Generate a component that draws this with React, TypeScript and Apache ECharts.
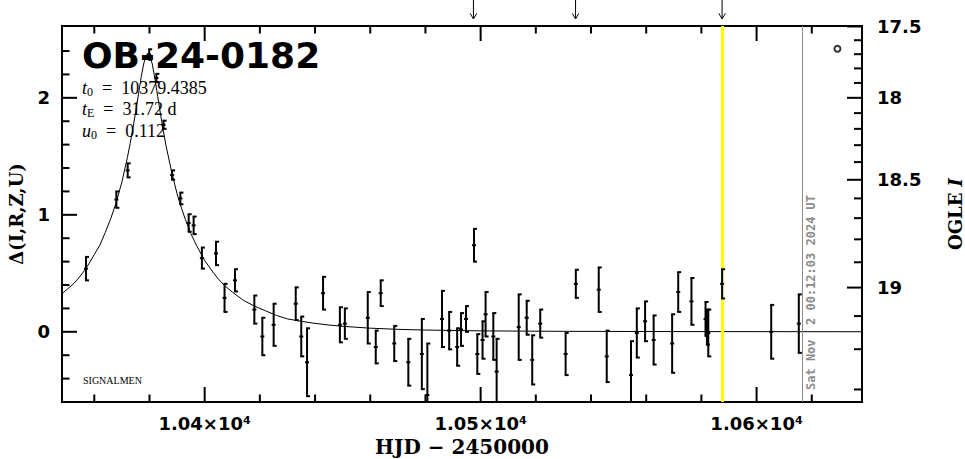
import React, { useEffect, useRef } from "react";
import * as echarts from "echarts";

// ---- axis ranges ----
const X_MIN = 10348.3;
const X_MAX = 10638.2;
const Y_MIN = -0.6;
const Y_MAX = 2.614;

// ---- observations (HJD-2450000, Δ, error) ----
const obsDays = [
  10357.0, 10368.0, 10372.1, 10379.9, 10382.5, 10385.1, 10388.2, 10391.2, 10394.2, 10396.0,
  10399.0, 10404.1, 10407.2, 10411.0, 10418.0, 10420.9, 10425.0, 10433.0, 10435.0, 10437.1,
  10442.9, 10449.0, 10450.8, 10459.1, 10462.0, 10463.8, 10468.7, 10473.8, 10478.7, 10480.7,
  10486.0, 10488.6, 10491.5, 10492.9, 10494.7, 10497.6, 10498.8, 10500.7, 10501.8, 10504.6,
  10505.8, 10513.8, 10516.7, 10518.7, 10521.6, 10530.8, 10534.5, 10542.8, 10545.7, 10554.5,
  10556.6, 10559.6, 10562.7, 10569.4, 10571.6, 10576.4, 10581.5, 10582.0, 10582.5, 10587.5,
  10605.3, 10615.3,
];
const obsDelta = [
  0.54, 1.13, 1.38, 2.37, 2.17, 1.77, 1.34, 1.14, 0.93, 0.91,
  0.63, 0.67, 0.29, 0.44, 0.19, -0.04, 0.06, 0.24, -0.04, -0.26,
  0.33, 0.06, 0.07, 0.12, -0.13, 0.33, -0.1, -0.26, -0.19, -0.54,
  0.11, 0.01, -0.13, 0.02, 0.11, 0.74, -0.19, -0.07, 0.15, -0.04,
  -0.34, 0.04, 0.12, -0.24, 0.07, -0.19, 0.41, 0.36, -0.21, -0.37,
  -0.01, 0.09, -0.07, -0.1, 0.34, 0.26, 0.11, 0.04, -0.01, 0.41,
  0.0, 0.07,
];
const obsErr = [
  0.1, 0.07, 0.06, 0.045, 0.035, 0.035, 0.04, 0.05, 0.075, 0.075,
  0.09, 0.1, 0.12, 0.095, 0.12, 0.16, 0.18, 0.14, 0.17, 0.29,
  0.14, 0.15, 0.13, 0.22, 0.14, 0.11, 0.15, 0.2, 0.3, 0.44,
  0.24, 0.16, 0.16, 0.14, 0.11, 0.14, 0.17, 0.16, 0.19, 0.2,
  0.28, 0.28, 0.145, 0.21, 0.12, 0.18, 0.12, 0.19, 0.22, 0.29,
  0.21, 0.17, 0.21, 0.25, 0.17, 0.2, 0.145, 0.15, 0.2, 0.125,
  0.23, 0.25,
];

// ---- model curve ----
const modelDays = [
  10348, 10350, 10352, 10354, 10356, 10358, 10360, 10362, 10364, 10366,
  10368, 10370, 10372, 10373, 10374, 10375, 10376, 10377, 10378, 10379,
  10379.44, 10380, 10381, 10382, 10383, 10384, 10385, 10386, 10388, 10390,
  10391, 10393, 10395, 10397, 10400, 10403, 10405, 10407, 10410, 10414,
  10418, 10422, 10426, 10430, 10435, 10440, 10445, 10450, 10460, 10470,
  10480, 10500, 10530, 10570, 10640,
];
const modelDelta = [
  0.32, 0.36, 0.4, 0.45, 0.51, 0.58, 0.66, 0.74, 0.85, 0.97,
  1.11, 1.28, 1.49, 1.61, 1.74, 1.88, 2.03, 2.18, 2.3, 2.37,
  2.38, 2.37, 2.29, 2.16, 2.01, 1.86, 1.72, 1.59, 1.37, 1.18,
  1.1, 0.96, 0.84, 0.74, 0.61, 0.51, 0.45, 0.4, 0.34, 0.27,
  0.22, 0.18, 0.14, 0.11, 0.09, 0.072, 0.058, 0.047, 0.031, 0.021,
  0.015, 0.008, 0.004, 0.002, 0.0005,
];

// ---- ticks ----
const xTickLabels = [10400, 10500, 10600];
const xMinorTicks = [10360, 10380, 10420, 10440, 10460, 10480, 10520, 10540, 10560, 10580, 10620];
const yTickLabels = [0, 1, 2];
const yMinorTicks = [-0.4, -0.2, 0.2, 0.4, 0.6, 0.8, 1.2, 1.4, 1.6, 1.8, 2.2, 2.4];
const magTickLabels = [17.5, 18, 18.5, 19];
const magMinorTicks = [17.6, 17.7, 17.8, 17.9, 18.1, 18.2, 18.3, 18.4, 18.6, 18.7, 18.8, 18.9, 19.1, 19.2, 19.3];

// OGLE I  <->  Δ scale conversion
const MAG_K = 20.2752;
const MAG_C = 1.82;
const magToDelta = (m: number) => 2.5 * Math.log10(Math.pow(10, (MAG_K - m) / 2.5) - MAG_C);
const deltaToMag = (d: number) => MAG_K - 2.5 * Math.log10(Math.pow(10, d / 2.5) + MAG_C);

// ---- annotations ----
const arrowDays = [10497.4, 10534.4, 10587.5];
const highlightDay = 10587.5;
const nowDay = 10616.5;
const nowLabel = "Sat Nov  2 00:12:03 2024 UT";
const legendMark = [[10629.3, 2.42]];
const eventName = "OB-24-0182";
const t0Value = "10379.4385";
const tEValue = "31.72 d";
const u0Value = "0.112";
const creditText = "SIGNALMEN";

const SANS = "DejaVu Sans";
const SERIF = "DejaVu Serif";
const TIMES = "Liberation Serif";

export default function App() {
  const ref = useRef<HTMLDivElement>(null);

  useEffect(() => {
    if (!ref.current) return;
    const chart = echarts.init(ref.current, undefined, { renderer: "svg" });

    const tickData: number[][] = [];
    xMinorTicks.forEach((v) => {
      tickData.push([v, Y_MIN, 0, 7.5]);
      tickData.push([v, Y_MAX, 1, 7.5]);
    });
    xTickLabels.forEach((v) => {
      tickData.push([v, Y_MIN, 0, 15]);
      tickData.push([v, Y_MAX, 1, 15]);
    });
    yMinorTicks.forEach((v) => tickData.push([X_MIN, v, 2, 7.5]));
    yTickLabels.forEach((v) => tickData.push([X_MIN, v, 2, 15]));
    magMinorTicks.forEach((m) => tickData.push([X_MAX, magToDelta(m), 3, 8]));
    magTickLabels.forEach((m) => tickData.push([X_MAX, magToDelta(m), 3, 15]));

    const obsData = obsDays.map((d, i) => [d, obsDelta[i], obsErr[i]]);
    const modelData = modelDays.map((d, i) => [d, modelDelta[i]]);
    const annoData: number[][] = arrowDays.map((d) => [d, Y_MAX, 0]);
    annoData.push([nowDay, Y_MIN, 1]);

    const paramRich = {
      i: { fontFamily: TIMES, fontSize: 18, fontStyle: "italic", lineHeight: 20, fill: "#000" },
      s: { fontFamily: TIMES, fontSize: 12, lineHeight: 12, verticalAlign: "bottom", fill: "#000" },
      n: { fontFamily: TIMES, fontSize: 18, lineHeight: 20, fill: "#000" },
    };

    const option: any = {
      animation: false,
      backgroundColor: "#fff",
      grid: {
        left: 62,
        top: 26,
        width: 800,
        height: 376,
        show: true,
        borderColor: "#000",
        borderWidth: 2,
        backgroundColor: "transparent",
        containLabel: false,
        outerBoundsMode: "none",
      },
      xAxis: [
        {
          type: "value",
          min: X_MIN,
          max: X_MAX,
          position: "bottom",
          axisLine: { show: false },
          axisTick: { show: false },
          splitLine: { show: false },
          axisLabel: {
            customValues: xTickLabels,
            formatter: (v: number) => (v / 1e4).toFixed(2) + "×10⁴",
            margin: 12,
            color: "#000",
            fontSize: 18,
            fontWeight: "bold",
            fontFamily: SANS,
          },
          name: "HJD − 2450000",
          nameLocation: "middle",
          nameGap: 35,
          nameTextStyle: { color: "#000", fontSize: 20, fontWeight: "bold", fontFamily: SERIF },
        },
      ],
      yAxis: [
        {
          type: "value",
          min: Y_MIN,
          max: Y_MAX,
          position: "left",
          axisLine: { show: false },
          axisTick: { show: false },
          splitLine: { show: false },
          axisLabel: {
            customValues: yTickLabels,
            formatter: (v: number) => String(v),
            margin: 12,
            color: "#000",
            fontSize: 18,
            fontWeight: "bold",
            fontFamily: SANS,
          },
          name: "Δ(I,R,Z,U)",
          nameLocation: "middle",
          nameRotate: 90,
          nameGap: 37,
          nameTextStyle: { color: "#000", fontSize: 18, fontWeight: "bold", fontFamily: SERIF },
        },
        {
          type: "value",
          min: Y_MIN,
          max: Y_MAX,
          position: "right",
          axisLine: { show: false },
          axisTick: { show: false },
          splitLine: { show: false },
          axisLabel: {
            customValues: magTickLabels.map(magToDelta),
            formatter: (v: number) => String(Math.round(deltaToMag(v) * 10) / 10),
            margin: 15,
            color: "#000",
            fontSize: 18,
            fontWeight: "bold",
            fontFamily: SANS,
          },
          name: "{a|OGLE }{b|I}",
          nameLocation: "middle",
          nameRotate: 90,
          nameGap: 84,
          nameTextStyle: {
            rich: {
              a: { color: "#000", fontSize: 18, fontWeight: "bold", fontFamily: SERIF },
              b: { color: "#000", fontSize: 18, fontWeight: "bold", fontStyle: "italic", fontFamily: SERIF },
            },
          },
        },
      ],
      series: [
        {
          name: "model",
          type: "line",
          data: modelData,
          showSymbol: false,
          symbol: "none",
          lineStyle: { color: "#000", width: 1 },
          z: 2,
          markLine: {
            silent: true,
            symbol: ["none", "none"],
            label: { show: false },
            data: [
              { xAxis: highlightDay, lineStyle: { color: "#ffff00", width: 3, type: "solid" } },
              { xAxis: nowDay, lineStyle: { color: "#8c8c8c", width: 1, type: "solid" } },
            ],
          },
        },
        {
          name: "obs",
          type: "custom",
          z: 5,
          data: obsData,
          renderItem: (params: any, api: any) => {
            const x = api.value(0);
            const y = api.value(1);
            const e = api.value(2);
            const c = api.coord([x, y]);
            const top = api.coord([x, y + e]);
            const bot = api.coord([x, y - e]);
            const cs = params.coordSys;
            const yTop = cs.y;
            const yBot = cs.y + cs.height;
            const t = Math.max(top[1], yTop);
            const b = Math.min(bot[1], yBot);
            const st = { stroke: "#000", lineWidth: 2 };
            const children: any[] = [
              { type: "line", shape: { x1: c[0], y1: t, x2: c[0], y2: b }, style: st },
            ];
            if (top[1] >= yTop) {
              children.push({ type: "line", shape: { x1: c[0] - 1, y1: top[1], x2: c[0] + 3, y2: top[1] }, style: st });
            }
            if (bot[1] <= yBot) {
              children.push({ type: "line", shape: { x1: c[0] - 1, y1: bot[1], x2: c[0] + 3, y2: bot[1] }, style: st });
            }
            if (c[1] >= yTop && c[1] <= yBot) {
              children.push({ type: "line", shape: { x1: c[0] - 2, y1: c[1], x2: c[0] + 2, y2: c[1] }, style: st });
            }
            return { type: "group", children };
          },
        },
        {
          name: "ticks",
          type: "custom",
          z: 6,
          silent: true,
          data: tickData,
          renderItem: (_params: any, api: any) => {
            const p = api.coord([api.value(0), api.value(1)]);
            const dir = api.value(2);
            const len = api.value(3);
            let x2 = p[0];
            let y2 = p[1];
            if (dir === 0) y2 -= len;
            else if (dir === 1) y2 += len;
            else if (dir === 2) x2 += len;
            else x2 -= len;
            return {
              type: "line",
              shape: { x1: p[0], y1: p[1], x2, y2 },
              style: { stroke: "#000", lineWidth: 2 },
            };
          },
        },
        {
          name: "annotations",
          type: "custom",
          z: 6,
          silent: true,
          data: annoData,
          renderItem: (_params: any, api: any) => {
            const p = api.coord([api.value(0), api.value(1)]);
            const kind = api.value(2);
            if (kind === 0) {
              const st = { stroke: "#000", lineWidth: 1 };
              const tip = p[1] - 7;
              return {
                type: "group",
                children: [
                  { type: "line", shape: { x1: p[0], y1: p[1] - 26, x2: p[0], y2: tip }, style: st },
                  { type: "line", shape: { x1: p[0] - 3.3, y1: tip - 5.7, x2: p[0], y2: tip }, style: st },
                  { type: "line", shape: { x1: p[0] + 3.3, y1: tip - 5.7, x2: p[0], y2: tip }, style: st },
                ],
              };
            }
            return {
              type: "text",
              x: p[0] + 8.7,
              y: p[1] - 12,
              rotation: Math.PI / 2,
              style: {
                text: nowLabel,
                fill: "#8c8c8c",
                fontSize: 12,
                fontWeight: "bold",
                fontFamily: "DejaVu Sans Mono",
                align: "left",
                verticalAlign: "middle",
              },
            };
          },
        },
        {
          name: "legend mark",
          type: "scatter",
          z: 6,
          data: legendMark,
          symbol: "circle",
          symbolSize: 6,
          itemStyle: { color: "#fff", borderColor: "#000", borderWidth: 2 },
        },
      ],
      graphic: [
        {
          type: "text",
          x: 82,
          y: 55.5,
          z: 10,
          style: {
            text: eventName,
            fill: "#000",
            fontSize: 36,
            fontWeight: "bold",
            fontFamily: SANS,
            align: "left",
            verticalAlign: "middle",
          },
        },
        {
          type: "text",
          x: 82,
          y: 87.5,
          z: 10,
          style: { text: "{i|t}{s|0}{n|  =  " + t0Value + "}", rich: paramRich, align: "left", verticalAlign: "middle" },
        },
        {
          type: "text",
          x: 82,
          y: 109,
          z: 10,
          style: { text: "{i|t}{s|E}{n|  =  " + tEValue + "}", rich: paramRich, align: "left", verticalAlign: "middle" },
        },
        {
          type: "text",
          x: 82,
          y: 131,
          z: 10,
          style: { text: "{i|u}{s|0}{n|  =  " + u0Value + "}", rich: paramRich, align: "left", verticalAlign: "middle" },
        },
        {
          type: "text",
          x: 83,
          y: 380,
          z: 10,
          style: {
            text: creditText,
            fill: "#000",
            fontSize: 10,
            fontFamily: TIMES,
            align: "left",
            verticalAlign: "middle",
          },
        },
      ],
    };

    chart.setOption(option);
    return () => chart.dispose();
  }, []);

  return (
    <div
      ref={ref}
      style={{ position: "fixed", left: 0, top: 0, width: 965, height: 459, background: "#fff" }}
    />
  );
}
